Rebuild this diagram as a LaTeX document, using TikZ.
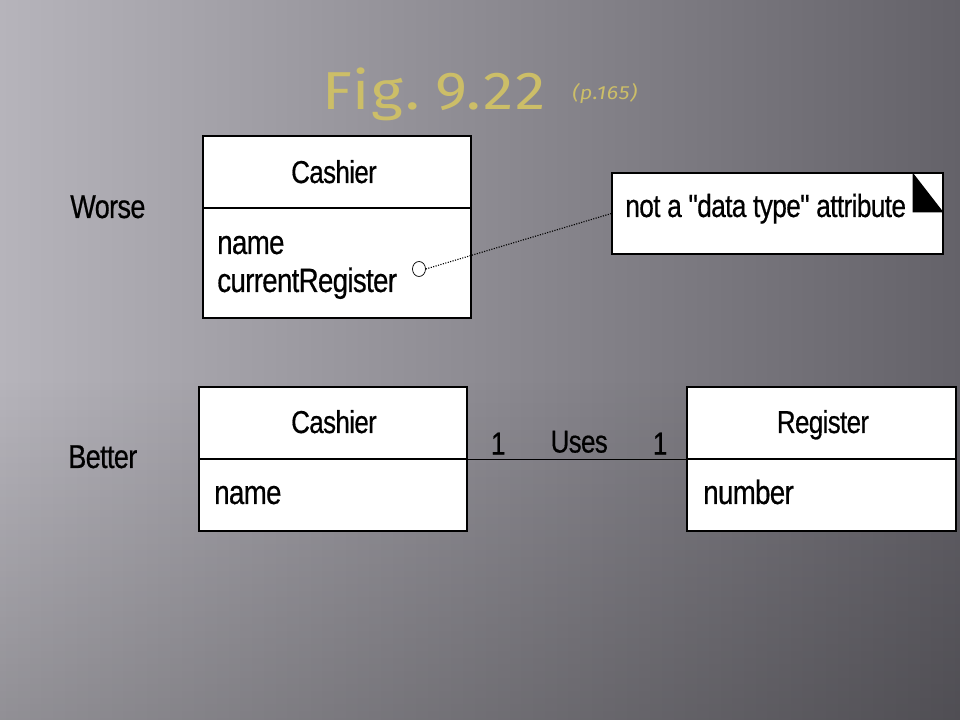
\documentclass[tikz,border=0pt]{standalone}
\usepackage{fontspec}
\setmainfont{Liberation Sans}
\newfontfamily\umlfont[FakeStretch=0.82,LetterSpace=-2,FakeBold=0.5]{Liberation Sans}
\newfontfamily\titlefont[LetterSpace=4,FakeStretch=1.14]{Fira Sans}
\usetikzlibrary{shapes.geometric, shadings, fadings}
\definecolor{bgL}{RGB}{182,180,187}
\definecolor{bgM}{RGB}{120,118,125}
\definecolor{bgR}{RGB}{100,98,105}
\definecolor{gold}{RGB}{204,190,104}
\tikzfading[name=fadebottom, top color=transparent!100, bottom color=transparent!0]

\begin{document}
\begin{tikzpicture}[x=0.025cm, y=-0.025cm,
  classhead/.style={rectangle, draw, fill=white, line width=0.8pt, minimum width=6.7cm, minimum height=1.8cm, inner sep=0pt},
  classbody/.style={classhead, minimum height=#1},
  notebox/.style={rectangle, draw, fill=white, line width=0.8pt, minimum width=8.275cm, minimum height=2.025cm, inner sep=0pt},
  classname/.style={inner sep=0pt, anchor=base, font=\umlfont\fontsize{22.5}{27}\selectfont},
  attr/.style={inner sep=0pt, anchor=base west, font=\umlfont\fontsize{24}{28}\selectfont},
  sidelabel/.style={inner sep=0pt, anchor=base west, font=\umlfont\fontsize{23.5}{28}\selectfont},
  titletext/.style={inner sep=0pt, anchor=base west, text=gold, font=\titlefont\fontsize{38}{44}\selectfont}
]
\useasboundingbox (0,0) rectangle (960,720);
% Hintergrund
\shade[left color=bgL, middle color=bgM, right color=bgR] (0,0) rectangle (960,720);
\fill[black, opacity=0.2, path fading=fadebottom] (0,380) rectangle (960,720);
% Titel
\node[titletext] (title) at (322,110) {Fig.\hspace{0.4cm}9.22};
\node[titletext, font=\titlefont\itshape\fontsize{13.5}{16}\selectfont] (page) at (572,100) {(p.165)};
% Worse
\node[sidelabel] (worse) at (70,218) {Worse};
\node[classhead] (cashA) at (337,172) {};
\node[classbody=2.75cm] (cashAbody) at (337,263) {};
\node[classname] (cashAname) at (334,183) {Cashier};
\node[attr] (nameA) at (217,254) {name};
\node[attr] (regA) at (217,292) {currentRegister};
\node[ellipse, draw, fill=white, line width=0.5pt, minimum width=0.325cm, minimum height=0.375cm, inner sep=0pt] (knob) at (419,269) {};
% Notiz
\node[notebox] (note) at (777.5,213.5) {};
\fill ([xshift=-0.775cm]note.north east) -- ([xshift=-0.775cm, yshift=-1cm]note.north east) -- ([yshift=-1cm]note.north east) -- cycle;
\node[attr, font=\umlfont\fontsize{22.8}{27}\selectfont] (notetext) at (625,217) {not a "data type" attribute};
\draw[densely dotted, line width=0.8pt] (knob.east) -- (note.west);
% Better
\node[sidelabel] (better) at (68,468) {Better};
\node[classhead] (cashB) at (333,423) {};
\node[classbody=1.8cm] (cashBbody) at (333,495) {};
\node[classname] (cashBname) at (334,433) {Cashier};
\node[attr] (nameB) at (214,504) {name};
\node[classhead, minimum width=6.725cm] (reg) at (821.5,423) {};
\node[classbody=1.8cm, minimum width=6.725cm] (regbody) at (821.5,495) {};
\node[classname] (regname) at (823,433) {Register};
\node[attr] (number) at (703,504) {number};
% Assoziation
\draw[line width=0.8pt] (cashB.south east) --
  node[classname, pos=0.14, yshift=3.6pt] {1}
  node[classname, pos=0.51, yshift=5pt] {Uses}
  node[classname, pos=0.88, yshift=3.6pt] {1} (reg.south west);
\end{tikzpicture}
\end{document}
